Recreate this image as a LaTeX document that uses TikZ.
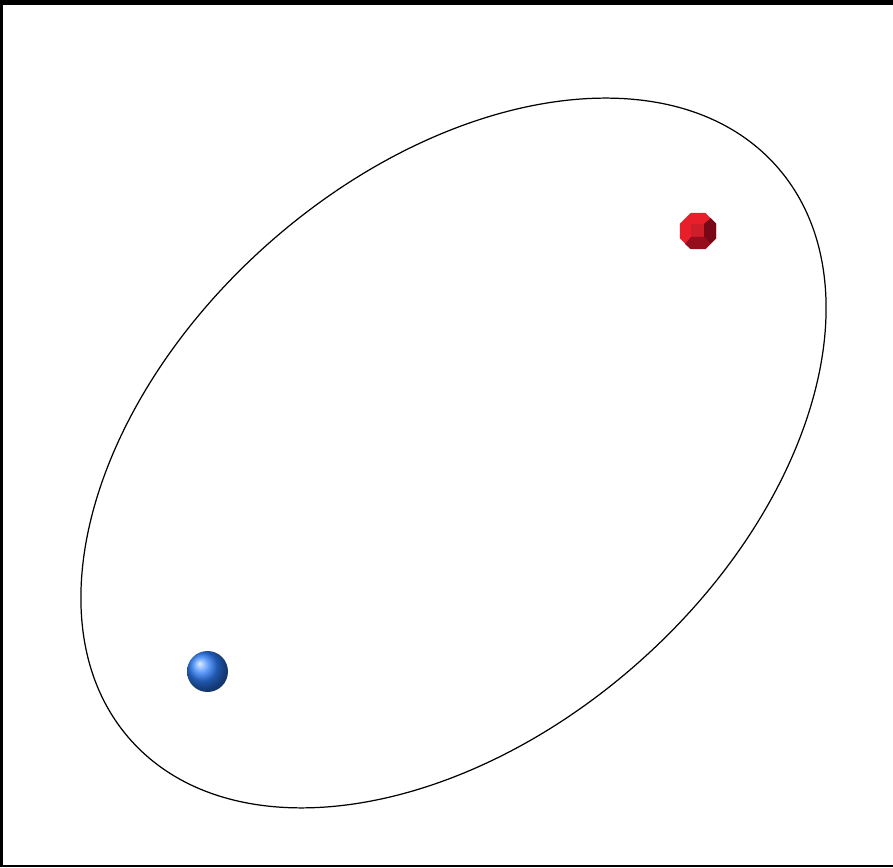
\documentclass[tikz,border=0pt]{standalone}
\usetikzlibrary{shapes.geometric}

\definecolor{atomred}{RGB}{232,30,42}
\definecolor{atomredface}{RGB}{205,30,42}
\definecolor{atomredside}{RGB}{120,8,24}
\definecolor{atomredbottom}{RGB}{150,14,30}
\definecolor{atomblue}{RGB}{45,125,250}

\begin{document}
\begin{tikzpicture}[
                orbit/.style={draw, ellipse, line width=0.7pt, inner sep=0pt, minimum width=17.28cm, minimum height=11.18cm, rotate=41.6},
                redcube/.style={regular polygon, regular polygon sides=8, fill=atomred, minimum size=0.78cm, inner sep=0pt},
                bluesphere/.style={circle, shading=ball, ball color=atomblue, minimum size=0.82cm, inner sep=0pt}
            ]
            \useasboundingbox (0,0) rectangle (17.86,17.34);
            % Frame (top, left and bottom edges)
            \fill[white] (0,0) rectangle (17.86,17.34);
            \fill[black] (0,17.24) rectangle (17.86,17.34);
            \fill[black] (0,0) rectangle (0.06,17.34);
            \fill[black] (0,0) rectangle (17.86,0.04);

            % Nodes
            \node[orbit] (orbit) at (9.07, 8.28) {};
            \node[redcube] (cube) at (13.96, 12.72) {};
            \node[bluesphere] (sphere) at (4.15, 3.91) {};

            % Bevels of the red atom
            \begin{scope}[shift={(cube.center)}]
                \fill[atomredface] (-0.14,-0.12) rectangle (0.12,0.14);
                \fill[atomredside] (0.12,0.14) -- (0.25,0.26) -- (0.36,0.15) -- (0.36,-0.15) -- (0.25,-0.26) -- (0.12,-0.12) -- cycle;
                \fill[atomredbottom] (0.12,-0.12) -- (0.25,-0.26) -- (0.15,-0.36) -- (-0.15,-0.36) -- (-0.26,-0.26) -- (-0.14,-0.12) -- cycle;
            \end{scope}
            \end{tikzpicture}
\end{document}
